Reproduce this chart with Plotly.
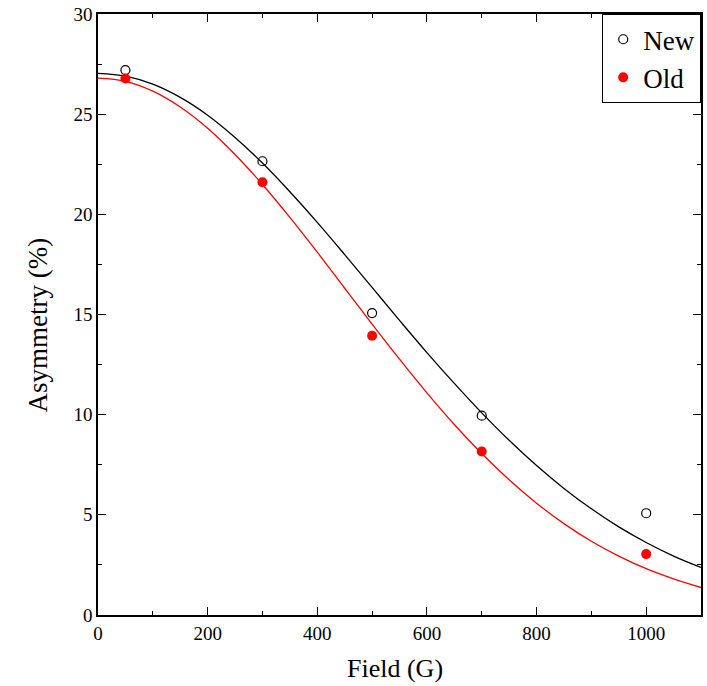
import plotly.graph_objects as go

# Measured points
field_pts = [50, 300, 500, 700, 1000]
new_vals = [27.2, 22.65, 15.07, 9.95, 5.08]
old_vals = [26.78, 21.6, 13.94, 8.16, 3.04]

# Fitted curves
curve_x = [0, 50, 100, 150, 200, 250, 300, 350, 400, 450, 500, 550, 600, 650,
           700, 750, 800, 850, 900, 950, 1000, 1050, 1100]
new_fit = [27.04, 26.90, 26.50, 25.84, 24.95, 23.84, 22.56, 21.13, 19.60, 17.99,
           16.35, 14.71, 13.10, 11.56, 10.09, 8.72, 7.46, 6.32, 5.30, 4.40,
           3.62, 2.94, 2.37]
old_fit = [26.80, 26.64, 26.15, 25.36, 24.30, 22.99, 21.49, 19.85, 18.11, 16.31,
           14.52, 12.77, 11.09, 9.51, 8.06, 6.75, 5.58, 4.56, 3.68, 2.94,
           2.31, 1.80, 1.37]

FONT = "Liberation Serif"

fig = go.Figure()
fig.add_trace(go.Scatter(x=curve_x, y=new_fit, mode="lines", line=dict(color="black", width=1.3, shape="spline"),
                         showlegend=False, hoverinfo="skip"))
fig.add_trace(go.Scatter(x=curve_x, y=old_fit, mode="lines", line=dict(color="red", width=1.3, shape="spline"),
                         showlegend=False, hoverinfo="skip"))
fig.add_trace(go.Scatter(x=field_pts, y=new_vals, mode="markers", name="New",
                         marker=dict(symbol="circle-open", size=9, color="black", line=dict(width=1.2, color="black"))))
fig.add_trace(go.Scatter(x=field_pts, y=old_vals, mode="markers", name="Old",
                         marker=dict(symbol="circle", size=10, color="red")))

axis_common = dict(
    showline=True, linecolor="black", linewidth=1.5, mirror="ticks",
    ticks="inside", ticklen=8, tickwidth=1.2, tickcolor="black",
    showgrid=False, zeroline=False,
    tickfont=dict(family=FONT, size=19, color="black"),
)

fig.update_layout(
    width=707, height=686,
    margin=dict(l=98, r=4, t=13, b=71),
    plot_bgcolor="white", paper_bgcolor="white",
    font=dict(family=FONT, color="black"),
    xaxis=dict(range=[0, 1100], tickmode="array", tickvals=[0, 200, 400, 600, 800, 1000],
               minor=dict(tickvals=[100, 300, 500, 700, 900, 1100], ticks="inside", ticklen=4, tickcolor="black", tickwidth=1.2),
               **axis_common),
    yaxis=dict(range=[0, 30], tickmode="array", tickvals=[0, 5, 10, 15, 20, 25, 30],
               minor=dict(tickvals=[2.5, 7.5, 12.5, 17.5, 22.5, 27.5], ticks="inside", ticklen=4, tickcolor="black", tickwidth=1.2),
               **axis_common),
    legend=dict(x=1, y=1, xanchor="right", yanchor="top", bordercolor="black", borderwidth=1.2,
                bgcolor="white", font=dict(family=FONT, size=27), itemsizing="trace",
                tracegroupgap=0),
    annotations=[
        dict(text="Field (G)", xref="paper", yref="paper", x=0.5, y=0, xanchor="center", yanchor="middle",
             xshift=-5, yshift=-53, showarrow=False, font=dict(family=FONT, size=26, color="black")),
        dict(text="Asymmetry (%)", xref="paper", yref="paper", x=0, y=0.5, xanchor="center", yanchor="middle",
             xshift=-61, yshift=-11, textangle=-90, showarrow=False, font=dict(family=FONT, size=27, color="black")),
    ],
)

fig.write_html("out.html")
